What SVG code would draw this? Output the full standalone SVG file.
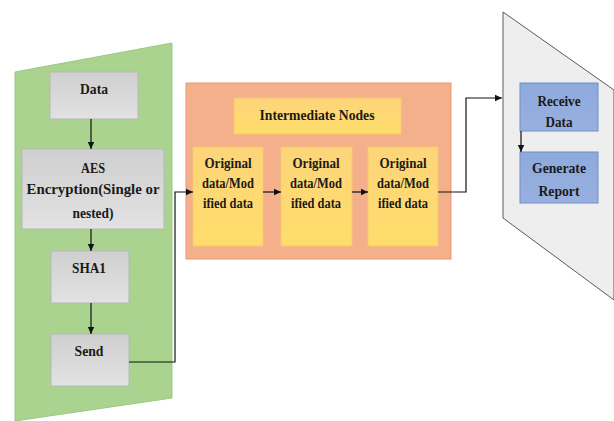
<svg xmlns="http://www.w3.org/2000/svg" width="614" height="421" viewBox="0 0 614 421" font-family="'Liberation Serif', 'DejaVu Serif', serif">
  <defs>
    <linearGradient id="grayGrad" x1="0" y1="0" x2="0" y2="1">
      <stop offset="0" stop-color="#cfcfcf"/>
      <stop offset="1" stop-color="#e2e2e2"/>
    </linearGradient>
    <linearGradient id="yellowGrad" x1="0" y1="0" x2="0" y2="1">
      <stop offset="0" stop-color="#fdd57a"/>
      <stop offset="1" stop-color="#ffdd6b"/>
    </linearGradient>
    <linearGradient id="blueGrad" x1="0" y1="0" x2="0" y2="1">
      <stop offset="0" stop-color="#8ea9dc"/>
      <stop offset="1" stop-color="#97b0df"/>
    </linearGradient>
    <marker id="arrow" markerWidth="8" markerHeight="8" refX="7" refY="4" orient="auto" markerUnits="userSpaceOnUse">
      <path d="M0,0.8 L7,4 L0,7.2 Z" fill="#111"/>
    </marker>
    <style>
      text { font-family: "Liberation Serif", "DejaVu Serif", serif; font-weight: bold; font-size: 15px; fill: #1a1a1a; text-anchor: middle; }
      .gray { fill: url(#grayGrad); stroke: #b8b8b8; stroke-width: 1; }
      .yellow { fill: url(#yellowGrad); stroke: #f7c873; stroke-width: 1; }
      .blue { fill: url(#blueGrad); stroke: #6f8fcc; stroke-width: 1; }
      .conn { fill: none; stroke: #111; stroke-width: 1.2; }
    </style>
  </defs>

  <!-- background panels -->
  <g id="sender-panel">
    <polygon points="15,72 172,43 172,398 15,421" fill="#a9d38f" stroke="#9cc783" stroke-width="1"/>
  </g>
  <g id="network-panel">
    <rect x="186" y="83" width="265" height="176" fill="#f4b08a" stroke="#e89a70" stroke-width="1"/>
  </g>
  <g id="receiver-panel">
    <polygon points="503,12 614,90 614,300 503,218" fill="#eeeeee" stroke="#5a5a5a" stroke-width="1"/>
  </g>

  <!-- sender side -->
  <g id="node-data">
    <rect class="gray" x="50" y="72" width="88" height="47"/>
    <text x="94" y="94" textLength="28" lengthAdjust="spacingAndGlyphs">Data</text>
  </g>
  <g id="node-aes">
    <rect class="gray" x="22" y="149" width="142" height="80"/>
    <text x="93" y="173" textLength="24" lengthAdjust="spacingAndGlyphs">AES</text>
    <text x="93" y="194" textLength="133" lengthAdjust="spacingAndGlyphs">Encryption(Single or</text>
    <text x="93" y="218" textLength="41" lengthAdjust="spacingAndGlyphs">nested)</text>
  </g>
  <g id="node-sha1">
    <rect class="gray" x="51" y="251" width="78" height="52"/>
    <text x="89" y="273" textLength="34" lengthAdjust="spacingAndGlyphs">SHA1</text>
  </g>
  <g id="node-send">
    <rect class="gray" x="51" y="334" width="78" height="52"/>
    <text x="89" y="356" textLength="29" lengthAdjust="spacingAndGlyphs">Send</text>
  </g>

  <!-- intermediate nodes -->
  <g id="node-intermediate-title">
    <rect class="yellow" x="234" y="98" width="167" height="36"/>
    <text x="317" y="120" textLength="115" lengthAdjust="spacingAndGlyphs">Intermediate Nodes</text>
  </g>
  <g id="node-hop1">
    <rect class="yellow" x="193" y="147" width="70" height="99"/>
    <text x="228" y="168" textLength="47" lengthAdjust="spacingAndGlyphs">Original</text>
    <text x="228" y="188" textLength="52" lengthAdjust="spacingAndGlyphs">data/Mod</text>
    <text x="228" y="208" textLength="50" lengthAdjust="spacingAndGlyphs">ified data</text>
  </g>
  <g id="node-hop2">
    <rect class="yellow" x="281" y="147" width="71" height="99"/>
    <text x="316" y="168" textLength="47" lengthAdjust="spacingAndGlyphs">Original</text>
    <text x="316" y="188" textLength="52" lengthAdjust="spacingAndGlyphs">data/Mod</text>
    <text x="316" y="208" textLength="50" lengthAdjust="spacingAndGlyphs">ified data</text>
  </g>
  <g id="node-hop3">
    <rect class="yellow" x="368" y="147" width="70" height="99"/>
    <text x="403" y="168" textLength="47" lengthAdjust="spacingAndGlyphs">Original</text>
    <text x="403" y="188" textLength="52" lengthAdjust="spacingAndGlyphs">data/Mod</text>
    <text x="403" y="208" textLength="50" lengthAdjust="spacingAndGlyphs">ified data</text>
  </g>

  <!-- receiver side -->
  <g id="node-receive">
    <rect class="blue" x="520" y="83" width="78" height="48"/>
    <text x="559" y="106" textLength="43" lengthAdjust="spacingAndGlyphs">Receive</text>
    <text x="559" y="127" textLength="27" lengthAdjust="spacingAndGlyphs">Data</text>
  </g>
  <g id="node-report">
    <rect class="blue" x="520" y="152" width="78" height="51"/>
    <text x="559" y="173" textLength="54" lengthAdjust="spacingAndGlyphs">Generate</text>
    <text x="559" y="196" textLength="41" lengthAdjust="spacingAndGlyphs">Report</text>
  </g>

  <!-- connectors -->
  <g id="connectors">
    <line class="conn" x1="91" y1="119" x2="91" y2="149" marker-end="url(#arrow)"/>
    <line class="conn" x1="91" y1="229" x2="91" y2="251" marker-end="url(#arrow)"/>
    <line class="conn" x1="91" y1="303" x2="91" y2="334" marker-end="url(#arrow)"/>
    <polyline class="conn" points="129,362 175,362 175,192 193,192" marker-end="url(#arrow)"/>
    <line class="conn" x1="263" y1="192" x2="281" y2="192" marker-end="url(#arrow)"/>
    <line class="conn" x1="352" y1="192" x2="368" y2="192" marker-end="url(#arrow)"/>
    <polyline class="conn" points="438,192 466,192 466,98 502,98" marker-end="url(#arrow)"/>
    <line class="conn" x1="521" y1="131" x2="521" y2="152" marker-end="url(#arrow)"/>
  </g>
</svg>
